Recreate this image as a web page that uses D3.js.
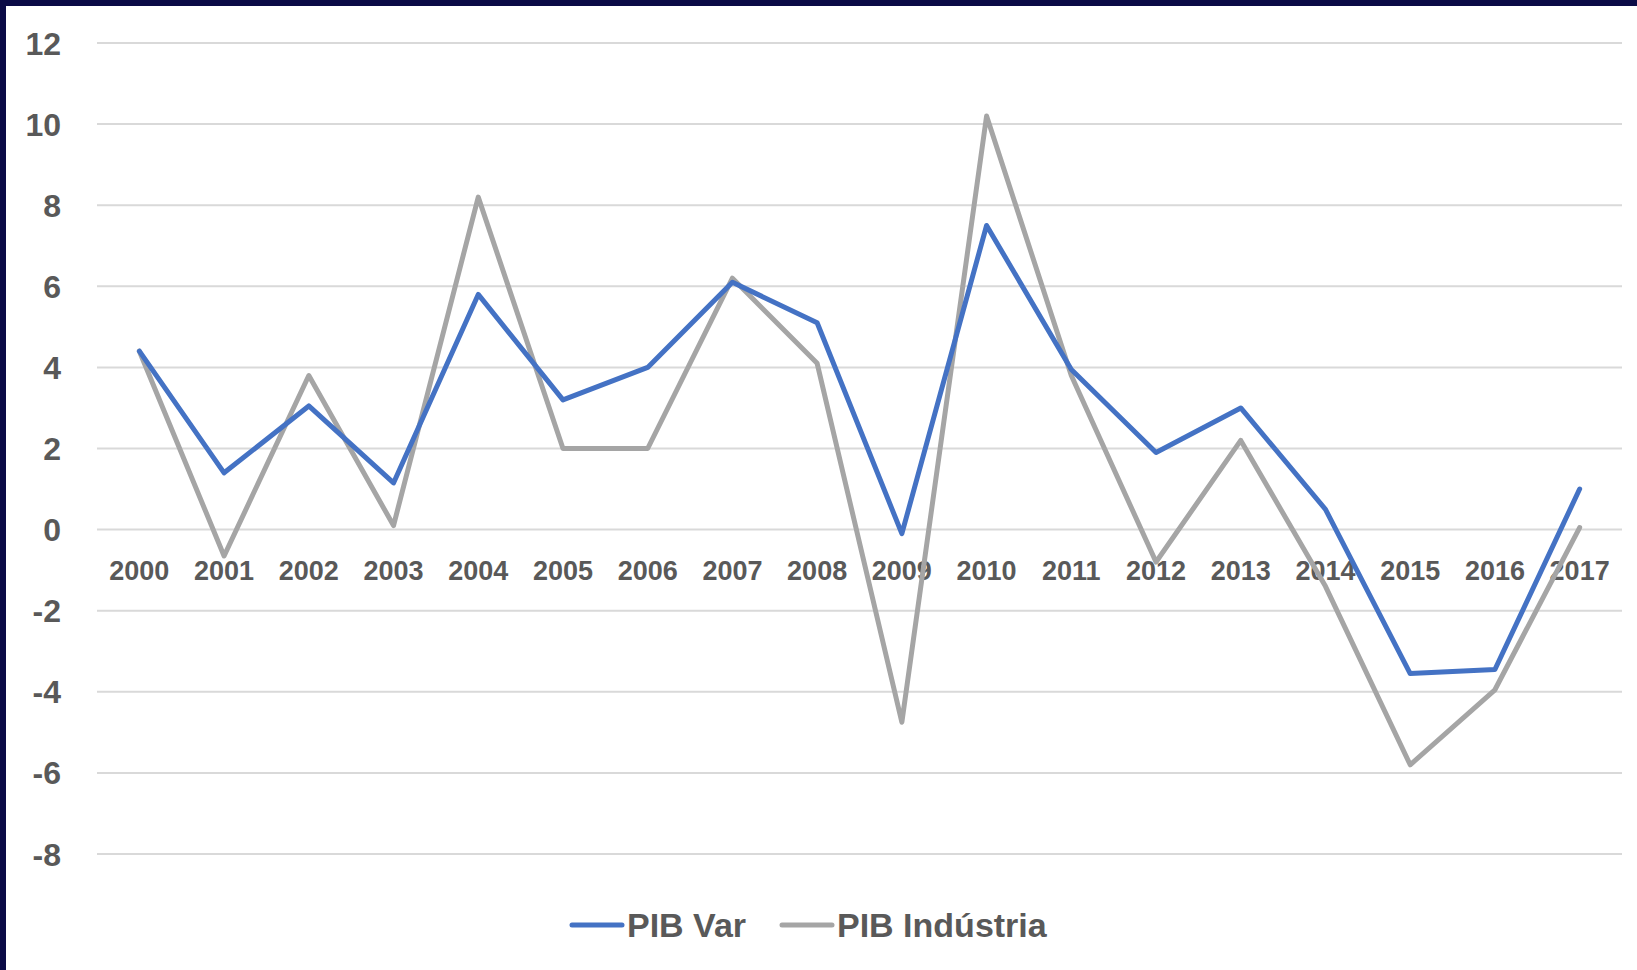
<!DOCTYPE html>
<html>
<head>
<meta charset="utf-8">
<script src="https://cdn.jsdelivr.net/npm/d3@7"></script>
<style>
    html, body { margin: 0; padding: 0; background: #fff; }
    #chart { width: 1637px; height: 970px; }
    text { font-family: "Liberation Sans", Arial, sans-serif; font-weight: bold; fill: #595959; }
</style>
</head>
<body>
<div id="chart"></div>
<script>
// Dados
const years = ['2000','2001','2002','2003','2004','2005','2006','2007','2008',
               '2009','2010','2011','2012','2013','2014','2015','2016','2017'];
const pibVar = [4.4, 1.4, 3.05, 1.15, 5.8, 3.2, 4.0, 6.1, 5.1,
                -0.1, 7.5, 3.95, 1.9, 3.0, 0.5, -3.55, -3.45, 1.0];
const pibIndustria = [4.4, -0.65, 3.8, 0.1, 8.2, 2.0, 2.0, 6.2, 4.1,
                      -4.75, 10.2, 3.8, -0.8, 2.2, -1.4, -5.8, -3.95, 0.05];
const yTicks = [12, 10, 8, 6, 4, 2, 0, -2, -4, -6, -8];
const seriesNames = ['PIB Var', 'PIB Indústria'];
const seriesColors = ['#4472C4', '#A5A5A5'];

const width = 1637, height = 970;
const margin = { left: 97, right: 15, top: 43, bottom: 116 };

const svg = d3.select('#chart').append('svg')
    .attr('width', width)
    .attr('height', height);

// moldura escura (esquerda e topo)
svg.append('rect').attr('x', 0).attr('y', 0).attr('width', width).attr('height', 6).attr('fill', '#0b0b46');
svg.append('rect').attr('x', 0).attr('y', 0).attr('width', 6).attr('height', height).attr('fill', '#0b0b46');

const x = d3.scalePoint()
    .domain(years)
    .range([margin.left, width - margin.right])
    .padding(0.5);

const y = d3.scaleLinear()
    .domain([-8, 12])
    .range([height - margin.bottom, margin.top]);

// gridlines
svg.append('g')
    .selectAll('line')
    .data(yTicks)
    .enter()
    .append('line')
    .attr('x1', margin.left)
    .attr('x2', width - margin.right)
    .attr('y1', d => y(d))
    .attr('y2', d => y(d))
    .attr('stroke', '#d9d9d9')
    .attr('stroke-width', 2);

// rótulos do eixo y
svg.append('g')
    .selectAll('text')
    .data(yTicks)
    .enter()
    .append('text')
    .attr('x', 61)
    .attr('y', d => y(d))
    .attr('dy', '0.36em')
    .attr('text-anchor', 'end')
    .style('font-size', '32px')
    .text(d => d);

// rótulos do eixo x (na linha do zero)
svg.append('g')
    .selectAll('text')
    .data(years)
    .enter()
    .append('text')
    .attr('x', d => x(d))
    .attr('y', y(0) + 41)
    .attr('dy', '0.36em')
    .attr('text-anchor', 'middle')
    .style('font-size', '27px')
    .text(d => d);

// linhas
const line = d3.line()
    .x((d, i) => x(years[i]))
    .y(d => y(d));

[pibIndustria, pibVar].forEach((vals, k) => {
    svg.append('path')
        .datum(vals)
        .attr('d', line)
        .attr('fill', 'none')
        .attr('stroke', k === 0 ? seriesColors[1] : seriesColors[0])
        .attr('stroke-width', 5)
        .attr('stroke-linejoin', 'round')
        .attr('stroke-linecap', 'round');
});

// legenda
const legendItems = [
    { name: seriesNames[0], color: seriesColors[0], x: 572 },
    { name: seriesNames[1], color: seriesColors[1], x: 782 }
];
const legend = svg.append('g').attr('transform', 'translate(0,925)');
legendItems.forEach(it => {
    legend.append('line')
        .attr('x1', it.x).attr('x2', it.x + 50)
        .attr('y1', 0).attr('y2', 0)
        .attr('stroke', it.color)
        .attr('stroke-width', 5)
        .attr('stroke-linecap', 'round');
    legend.append('text')
        .attr('x', it.x + 55)
        .attr('y', 0)
        .attr('dy', '0.36em')
        .style('font-size', '34px')
        .text(it.name);
});
</script>
</body>
</html>
